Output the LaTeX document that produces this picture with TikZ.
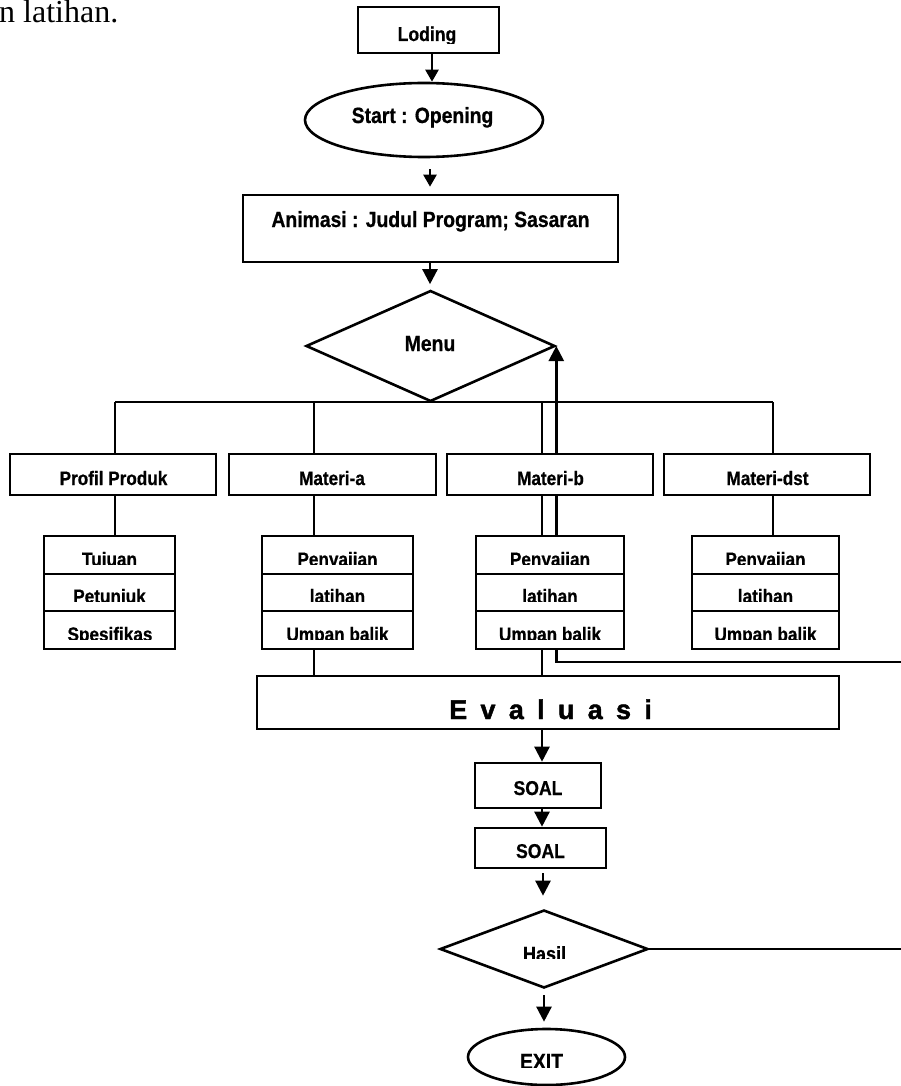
\documentclass[tikz,border=0pt]{standalone}
\usepackage{fontspec}
\setmainfont{Liberation Serif}
\newfontfamily\arialn[FakeStretch=0.88,FakeBold=0.7]{Liberation Sans Bold}
\newfontfamily\arialw[FakeBold=1.6]{Liberation Sans Bold}
\usetikzlibrary{shapes.geometric,arrows.meta}
\pgfdeclarelayer{bg}
\pgfsetlayers{bg,main}
\tikzset{
  ln/.style={line width=2.6pt},
  arr/.style={line width=2.4pt,-{Triangle[length=15pt,width=15pt]}},
  smallarr/.style={line width=2.4pt,-{Triangle[length=12pt,width=13pt]}},
  box/.style={draw,rectangle,line width=2.6pt,fill=white,inner sep=0pt},
  ell/.style={draw,ellipse,line width=2.6pt,fill=white,inner sep=0pt},
  dia/.style={draw,diamond,line width=2.6pt,fill=white,inner sep=0pt},
  lbl/.style={inner sep=0pt,anchor=base},
}
\newcommand\nlab[5]{\node[lbl,font=\arialn\fontsize{#4}{#4}\selectfont] (#1) at (#2,#3) {#5};}
\newcommand\clab[6]{\begin{scope}\clip (#2-120,#3-40) rectangle (#2+120,#6);
  \node[lbl,font=\arialn\fontsize{#4}{#4}\selectfont] (#1) at (#2,#3) {#5};\end{scope}}
\newcommand\bx[6][box]{\node[#1,minimum width=#5pt,minimum height=#6pt] (#2) at (#3,#4) {};}
\begin{document}
\begin{tikzpicture}[x=1pt,y=-1pt]
\useasboundingbox (0,0) rectangle (901,1086);
% caption fragment
\node[anchor=base west,inner sep=0pt,font=\fontsize{32}{32}\selectfont] (cap) at (-1,23) {n latihan.};
% main nodes
\bx{loding}{428.5}{30}{141}{46}
\bx[ell]{start}{424}{120}{238}{74}
\bx{anim}{430.5}{228.5}{375}{67}
\bx[dia]{menu}{430.5}{346}{249}{111}
\bx{profil}{113}{474.5}{206}{41}
\bx{materia}{332.5}{474.5}{207}{41}
\bx{materib}{550}{474.5}{206}{41}
\bx{materidst}{767}{474.5}{206}{41}
% sub boxes
\bx{p1}{109.5}{555}{131}{38}
\bx{p2}{109.5}{592.5}{131}{37}
\bx{p3}{109.5}{630}{131}{38}
\bx{a1}{337.5}{555}{151}{38}
\bx{a2}{337.5}{592.5}{151}{37}
\bx{a3}{337.5}{630}{151}{38}
\bx{b1}{550}{555}{148}{38}
\bx{b2}{550}{592.5}{148}{37}
\bx{b3}{550}{630}{148}{38}
\bx{d1}{765.5}{555}{147}{38}
\bx{d2}{765.5}{592.5}{147}{37}
\bx{d3}{765.5}{630}{147}{38}
\bx{eval}{548}{702.5}{582}{53}
\bx{soal1}{538}{785.5}{126}{45}
\bx{soal2}{540.5}{848}{131}{40}
\bx[dia]{hasil}{544}{949}{208}{78}
\bx[ell]{exit}{546.5}{1057}{157}{56}
% labels
\clab{tloding}{427}{41}{20}{Loding}{43.5}
\nlab{tstart}{422.5}{123}{22}{Start : Opening}
\nlab{tanim}{430.5}{227}{22}{Animasi : Judul Program; Sasaran}
\nlab{tmenu}{430}{351}{22}{Menu}
\nlab{tprofil}{113.5}{485}{19.5}{Profil Produk}
\nlab{tmateria}{332}{485}{19.5}{Materi-a}
\nlab{tmaterib}{550.5}{485}{19.5}{Materi-b}
\nlab{tmateridst}{767.5}{485}{19.5}{Materi-dst}
\clab{tp1}{109.5}{566}{19.5}{Tujuan}{564.5}
\clab{tp2}{109.5}{603}{19.5}{Petunjuk}{601.5}
\clab{tp3}{110}{641}{19.5}{Spesifikas}{639.5}
\clab{ta1}{337.5}{566}{19.5}{Penyajian}{564.5}
\clab{ta2}{337.5}{603}{19.5}{latihan}{601.5}
\clab{ta3}{337.5}{641}{19.5}{Umpan balik}{639.5}
\clab{tb1}{550}{566}{19.5}{Penyajian}{564.5}
\clab{tb2}{550}{603}{19.5}{latihan}{601.5}
\clab{tb3}{550}{641}{19.5}{Umpan balik}{639.5}
\clab{td1}{765.5}{566}{19.5}{Penyajian}{564.5}
\clab{td2}{765.5}{603}{19.5}{latihan}{601.5}
\clab{td3}{765.5}{641}{19.5}{Umpan balik}{639.5}
\node[inner sep=0pt,anchor=base west,font=\arialw\fontsize{27}{27}\selectfont] (teval) at (449,719)
  {E\kern13.3pt v\kern13.3pt a\kern13.3pt l\kern13.3pt u\kern13.3pt a\kern13.3pt s\kern13.3pt i};
\nlab{tsoal1}{538}{795}{20}{SOAL}
\nlab{tsoal2}{540.5}{858}{20}{SOAL}
\clab{thasil}{544.5}{961}{20.5}{Hasil}{958.5}
\clab{texit}{541.5}{1069}{22}{EXIT}{1067}
% helper coordinates
\coordinate (x432) at (432,0);
\coordinate (x430) at (430,0);
\coordinate (x542) at (542,0);
\coordinate (x543) at (543,0);
\coordinate (x544) at (544,0);
\coordinate (bL) at (115,402);
\coordinate (va) at (314,402);
\coordinate (vb) at (542,402);
\coordinate (bR) at (773,402);
\coordinate (retR) at (901,662);
\begin{pgfonlayer}{bg}
\draw[smallarr] (loding.south -| x432) -- (start.north -| x432);
\draw[smallarr,shorten <=11pt,shorten >=7pt] (start.south -| x430) -- (anim.north -| x430);
\draw[arr,shorten >=5pt] (anim.south -| x430) -- (menu.north -| x430);
\draw[ln] (bL) -- (bR);
\draw[ln] (bL) -- (profil.north -| bL);
\draw[ln] (profil.south -| bL) -- (p1.north -| bL);
\draw[ln] (va) -- (materia.north -| va);
\draw[ln] (materia.south -| va) -- (a1.north -| va);
\draw[ln] (a3.south -| va) -- (eval.north -| va);
\draw[ln] (vb) -- (materib.north -| vb);
\draw[ln] (materib.south -| vb) -- (b1.north -| vb);
\draw[ln] (b3.south -| vb) -- (eval.north -| vb);
\draw[ln] (bR) -- (materidst.north -| bR);
\draw[ln] (materidst.south -| bR) -- (d1.north -| bR);
\draw[arr] (retR) -| (menu.east);
\draw[arr] (eval.south -| x542) -- (soal1.north -| x542);
\draw[arr] (soal1.south -| x542) -- (soal2.north -| x542);
\draw[arr,shorten <=4pt,shorten >=13pt] (soal2.south -| x543) -- (hasil.north -| x543);
\draw[arr,shorten <=6pt,shorten >=6pt] (hasil.south -| x544) -- (exit.north -| x544);
\draw[ln] (hasil.east) -- (hasil.east -| retR);
\end{pgfonlayer}
\end{tikzpicture}
\end{document}
